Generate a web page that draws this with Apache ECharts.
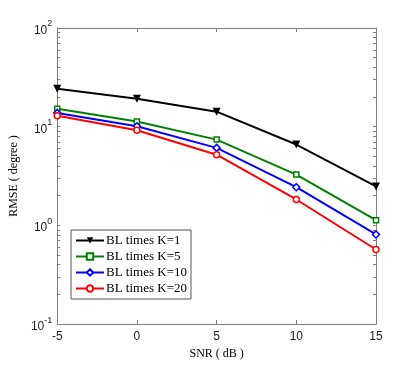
<!DOCTYPE html>
<html>
<head>
<meta charset="utf-8">
<script src="https://cdn.jsdelivr.net/npm/echarts@6/dist/echarts.min.js"></script>
<style>
    html, body { margin: 0; padding: 0; background: #fff; }
    #chart { width: 415px; height: 365px; }
</style>
</head>
<body>
<div id="chart"></div>
<script>
    const snr = [-5, 0, 5, 10, 15];
    const seriesNames = ['BL times K=1', 'BL times K=5', 'BL times K=10', 'BL times K=20'];
    const k1 = [24.2, 19.2, 14.2, 6.6, 2.48];
    const k5 = [15.2, 11.3, 7.4, 3.27, 1.13];
    const k10 = [13.8, 10.1, 6.1, 2.44, 0.81];
    const k20 = [12.9, 9.2, 5.2, 1.83, 0.57];
    const xTicks = [-5, 0, 5, 10, 15];
    const yTicks = [0.1, 1, 10, 100];
    const yMinorTicks = [0.2, 0.3, 0.4, 0.5, 0.6, 0.7, 0.8, 0.9,
        2, 3, 4, 5, 6, 7, 8, 9,
        20, 30, 40, 50, 60, 70, 80, 90];

    const chart = echarts.init(document.getElementById('chart'));
    const axisGray = '#808080';
    const sans = 'Liberation Sans';
    const serif = 'Liberation Serif';

    function pairs(vals) {
        return snr.map(function (x, i) { return [x, vals[i]]; });
    }

    // 上方和右侧的坐标轴只画刻度，形成 MATLAB 风格的方框
    const baseX = {
        type: 'value', min: xTicks[0], max: xTicks[xTicks.length - 1], interval: 5,
        axisLine: { show: true, onZero: false, lineStyle: { color: axisGray, width: 1 } },
        axisTick: { show: true, inside: true, length: 4, lineStyle: { color: axisGray } },
        splitLine: { show: false }
    };
    // 对数轴：主刻度 + 2..9 倍次刻度
    const baseY = {
        type: 'log', logBase: 10, min: yTicks[0], max: yTicks[yTicks.length - 1],
        axisLine: { show: true, onZero: false, lineStyle: { color: axisGray, width: 1 } },
        axisTick: {
            show: true, inside: true, length: 3,
            customValues: yTicks.concat(yMinorTicks),
            lineStyle: { color: axisGray }
        },
        splitLine: { show: false }
    };

    function line(name, vals, color, symbol, size, hollow) {
        return {
            name: name, type: 'line', yAxisIndex: 0, data: pairs(vals),
            symbol: symbol, symbolSize: size, symbolRotate: symbol === 'triangle' ? 180 : 0,
            itemStyle: hollow
                ? { color: '#fff', borderColor: color, borderWidth: 1.5 }
                : { color: color },
            lineStyle: { color: color, width: 2 }
        };
    }

    const option = {
        animation: false,
        backgroundColor: '#fff',
        grid: { left: 54, right: 39, top: 28, bottom: 40 },
        legend: {
            orient: 'vertical',
            left: 71, top: 230,
            data: seriesNames,
            backgroundColor: '#fff',
            borderColor: '#555',
            borderWidth: 1,
            borderRadius: 0,
            padding: [4, 4, 4, 4],
            itemGap: 3,
            itemWidth: 28,
            itemHeight: 8,
            textStyle: { fontFamily: serif, fontSize: 13, color: '#000', padding: [0, 0, 0, -3] }
        },
        xAxis: [
            Object.assign({}, baseX, {
                position: 'bottom',
                name: 'SNR ( dB )', nameLocation: 'middle', nameGap: 22,
                nameTextStyle: { fontFamily: serif, fontSize: 12, color: '#000' },
                axisLabel: { fontFamily: sans, fontSize: 12, color: '#222', margin: 7 }
            }),
            Object.assign({}, baseX, { position: 'top', axisLabel: { show: false } })
        ],
        yAxis: [
            Object.assign({}, baseY, {
                position: 'left',
                name: 'RMSE ( degree )', nameLocation: 'middle', nameGap: 28,
                nameTextStyle: { fontFamily: serif, fontSize: 12, color: '#000' },
                axisLabel: {
                    margin: 5,
                    formatter: function (v) {
                        return '{b|10}{s|' + Math.round(Math.log10(v)) + '}';
                    },
                    rich: {
                        b: { fontFamily: sans, fontSize: 12, color: '#222', verticalAlign: 'bottom' },
                        s: { fontFamily: sans, fontSize: 9, color: '#222', verticalAlign: 'top', padding: [0, 0, 8, 0] }
                    }
                }
            }),
            Object.assign({}, baseY, {
                position: 'right',
                axisLabel: { show: true, formatter: function () { return ''; } }
            })
        ],
        series: [
            line(seriesNames[0], k1, '#000000', 'triangle', 8, false),
            line(seriesNames[1], k5, '#008000', 'rect', 5, true),
            line(seriesNames[2], k10, '#0000ff', 'diamond', 7, true),
            line(seriesNames[3], k20, '#ff0000', 'circle', 6, true)
        ]
    };
    chart.setOption(option);

    window.onresize = function () {
        chart.resize();
    };
</script>
</body>
</html>
